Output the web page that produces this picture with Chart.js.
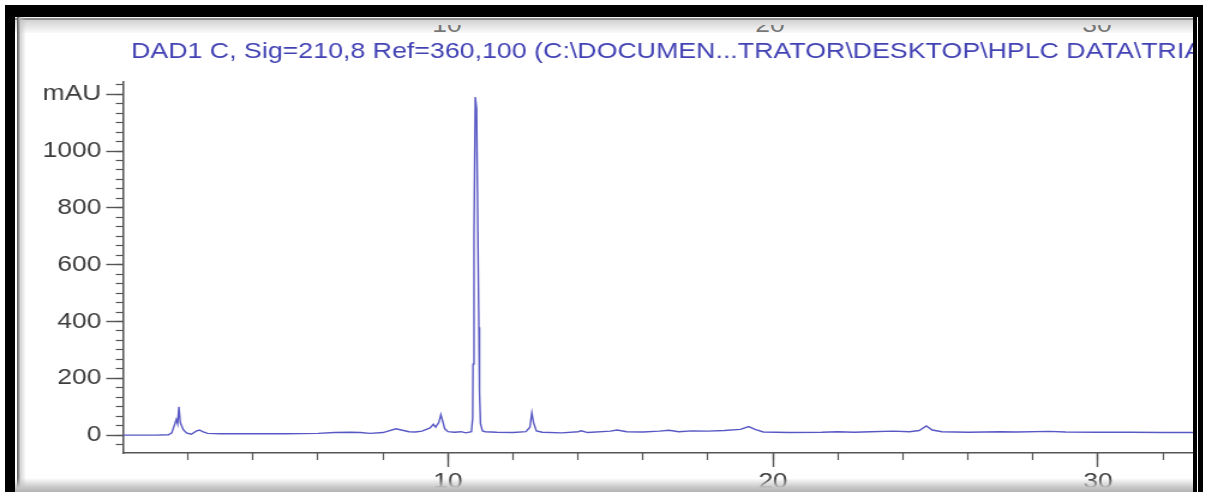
<!DOCTYPE html>
<html>
<head>
<meta charset="utf-8">
<script src="https://cdn.jsdelivr.net/npm/chart.js@4.4.1/dist/chart.umd.min.js"></script>
<style>
  html, body { margin: 0; padding: 0; background: #fff; }
  body { width: 1208px; height: 492px; position: relative; overflow: hidden; font-family: "Liberation Sans", Arial, sans-serif; }
  #wrap { position: absolute; left: 18px; top: 30px; }
  #chart { display: block; transform: scaleX(1.2); transform-origin: 0 0; }
  .blk { position: absolute; background: #000; }
  #topband { position: absolute; left: 15px; top: 17px; width: 1178px; height: 16px; overflow: hidden;
    background: linear-gradient(#f4f4f4 0 1px, #8f8f8f 1px 3px, #d2d2d2 3px, #eeeeee 12px, #fafafa 100%); }
  #cut { position: absolute; left: 0; top: 8px; width: 1178px; height: 7px; overflow: hidden; }
  #cut span { position: absolute; top: -13px; width: 60px; text-align: center; font-size: 22px; color: #777; transform: scaleX(1.2); }
  #leftline { position: absolute; left: 17px; top: 17px; width: 3px; height: 475px; background: linear-gradient(90deg, #555, #bbb); }
  #leftshade { position: absolute; left: 20px; top: 17px; width: 6px; height: 475px; background: linear-gradient(90deg, rgba(190,190,190,0.7), rgba(255,255,255,0)); }
  #bottomband { position: absolute; left: 15px; top: 478px; width: 1178px; height: 14px; background: linear-gradient(rgba(255,255,255,0), #c4c4c4 70%, #b4b4b4); }
</style>
</head>
<body>
<div id="wrap"><canvas id="chart" width="979" height="462"></canvas></div>
<div id="topband">
  <div id="cut">
    <span style="left:402px">10</span>
    <span style="left:725px">20</span>
    <span style="left:1052px">30</span>
  </div>
</div>
<div id="leftline"></div>
<div id="leftshade"></div>
<div id="bottomband"></div>
<div class="blk" style="left:5px; top:5px; width:1198px; height:12px"></div>
<div class="blk" style="left:5px; top:5px; width:10px; height:487px"></div>
<div class="blk" style="left:1193px; top:5px; width:4px; height:487px"></div>
<div class="blk" style="left:1198px; top:5px; width:5px; height:487px"></div>
<script>
const titleText = 'DAD1 C, Sig=210,8 Ref=360,100 (C:\\DOCUMEN...TRATOR\\DESKTOP\\HPLC DATA\\TRIAL'

// retention time (min) and absorbance (mAU)
const retentionTimes = [
  0, 1.0, 1.40, 1.50, 1.58, 1.64, 1.68, 1.72, 1.76, 1.85, 1.95, 2.10, 2.25, 2.35, 2.45, 2.60,
  3.0, 4.0, 5.0, 6.0, 6.5, 7.0, 7.3, 7.6, 8.0, 8.4, 8.6, 8.8, 9.0, 9.2, 9.45, 9.55, 9.62,
  9.72, 9.78, 9.84, 9.90, 10.0, 10.2, 10.4, 10.55, 10.72, 10.76, 10.77, 10.80, 10.84, 10.88,
  10.92, 10.95, 10.97, 11.00, 11.06, 11.15, 11.5, 12.0, 12.4, 12.52, 12.58, 12.63, 12.72, 12.9,
  13.5, 14.0, 14.1, 14.3, 15.0, 15.2, 15.5, 16.0, 16.5, 16.8, 17.1, 17.5, 18.0, 18.5, 19.0,
  19.25, 19.45, 19.7, 20.5, 21.5, 22.0, 22.5, 23.0, 23.7, 24.2, 24.5, 24.72, 24.9, 25.2, 26.0,
  27.0, 27.5, 28.5, 29.0, 30.0, 31.0, 32.0, 33.0
]
const absorbance = [
  0, 0, 1, 8, 35, 55, 40, 100, 45, 20, 8, 3, 14, 18, 12, 6,
  5, 5, 5, 6, 9, 10, 9, 6, 9, 22, 17, 12, 11, 14, 25, 38, 28,
  45, 72, 48, 22, 12, 10, 12, 8, 12, 60, 250, 700, 1190, 1150,
  700, 380, 150, 40, 15, 12, 10, 9, 12, 28, 78, 45, 15, 10,
  8, 12, 15, 9, 14, 18, 12, 11, 14, 17, 12, 15, 14, 16, 20,
  30, 20, 11, 9, 10, 12, 10, 12, 14, 12, 16, 32, 18, 12, 10,
  12, 11, 13, 11, 10, 10, 9, 9
]

const yTickValues = [0, 200, 400, 600, 800, 1000, 1200]
const yUnitLabel = 'mAU'
const xTickValues = [10, 20, 30]
const xMinorStep = 2
const yMinorStep = 200 / 6

const yMin = -63
const yMax = 1243
const xMin = 0
const xMax = 32.92

const axisColor = '#555'
const labelFont = { family: '"Liberation Sans", Arial, sans-serif', size: 22 }

const minorTicks = (min, max, step) => {
  const out = []
  for (let v = Math.ceil(min / step) * step; v <= max; v += step) out.push({ value: v })
  return out
}

const sigTitle = {
  id: 'sigTitle',
  afterDraw(chart) {
    const { ctx, chartArea } = chart
    ctx.save()
    ctx.font = '22.3px "Liberation Sans", Arial, sans-serif'
    ctx.fillStyle = '#4242b4'
    ctx.textBaseline = 'alphabetic'
    ctx.fillText(titleText, chartArea.left + 6.7, 28)
    ctx.restore()
  }
}

const ctx = document.getElementById('chart').getContext('2d')

new Chart(ctx, {
  type: 'line',
  data: {
    datasets: [{
      data: retentionTimes.map((t, i) => ({ x: t, y: absorbance[i] })),
      borderColor: 'rgb(88,88,196)',
      borderWidth: 1.4,
      pointRadius: 0,
      tension: 0,
      xAxisID: 'x',
      yAxisID: 'y'
    }]
  },
  options: {
    responsive: false,
    animation: false,
    layout: { padding: { top: 52, left: 0, right: 0, bottom: 0 } },
    plugins: { legend: { display: false }, tooltip: { enabled: false }, title: { display: false } },
    scales: {
      y: {
        type: 'linear', position: 'left', weight: 1, min: yMin, max: yMax,
        afterBuildTicks: (s) => { s.ticks = yTickValues.map(v => ({ value: v })) },
        afterFit: (s) => { s.width = 87.5 },
        ticks: {
          autoSkip: false, color: '#3c3c3c', font: labelFont, padding: 4,
          callback: (v) => v === 1200 ? yUnitLabel : String(v)
        },
        grid: { drawOnChartArea: false, tickLength: 14, tickColor: axisColor, tickWidth: 1.4 },
        border: { color: axisColor, width: 1.5 }
      },
      yMinor: {
        type: 'linear', position: 'left', weight: 0, min: yMin, max: yMax,
        afterBuildTicks: (s) => { s.ticks = minorTicks(yMin, yMax, yMinorStep) },
        afterFit: (s) => { s.width = 0 },
        ticks: { display: false },
        grid: { drawOnChartArea: false, tickLength: 6, tickColor: axisColor, tickWidth: 1.2 },
        border: { display: false }
      },
      x: {
        type: 'linear', position: 'bottom', weight: 1, min: xMin, max: xMax,
        afterBuildTicks: (s) => { s.ticks = xTickValues.map(v => ({ value: v })) },
        afterFit: (s) => { s.height = 39 },
        ticks: { autoSkip: false, maxRotation: 0, color: '#3c3c3c', font: labelFont, padding: 2 },
        grid: { drawOnChartArea: false, tickLength: 14, tickColor: axisColor, tickWidth: 1.4 },
        border: { color: axisColor, width: 1.5 }
      },
      xMinor: {
        type: 'linear', position: 'bottom', weight: 0, min: xMin, max: xMax,
        afterBuildTicks: (s) => { s.ticks = minorTicks(xMin + xMinorStep, xMax, xMinorStep) },
        afterFit: (s) => { s.height = 0 },
        ticks: { display: false },
        grid: { drawOnChartArea: false, tickLength: 7, tickColor: axisColor, tickWidth: 1.2 },
        border: { display: false }
      }
    }
  },
  plugins: [sigTitle]
})
</script>
</body>
</html>
